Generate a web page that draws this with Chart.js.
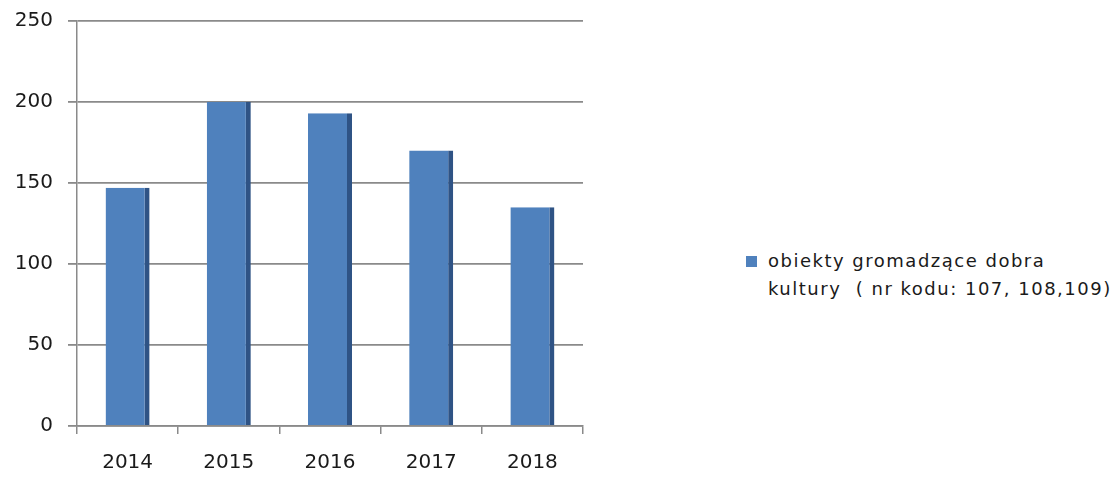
<!DOCTYPE html>
<html>
<head>
<meta charset="utf-8">
<script src="https://cdn.jsdelivr.net/npm/chart.js@4/dist/chart.umd.min.js"></script>
<style>
    html, body { margin: 0; padding: 0; background: #fff; }
    #wrap { position: relative; width: 1114px; height: 477px; }
    #chartBox { position: absolute; left: 0; top: 0; width: 590px; height: 477px; }
    #legenda { position: absolute; left: 746px; top: 247px; font-family: "DejaVu Sans", sans-serif; font-size: 18px; line-height: 28px; color: #1a1a1a; letter-spacing: 1.5px; }
    #legenda .kw { position: absolute; left: 0; top: 9px; width: 11px; height: 11px; background: #4f81bd; }
    #legenda div { padding-left: 22px; white-space: nowrap; }
</style>
</head>
<body>
<div id="wrap">
    <div id="chartBox"><canvas id="wykres"></canvas></div>
    <div id="legenda">
        <span class="kw"></span>
        <div>obiekty gromadzące dobra</div>
        <div>kultury &nbsp;( nr kodu: 107, 108,109)</div>
    </div>
</div>
<script>
const lata = ['2014', '2015', '2016', '2017', '2018'];
const obiekty = [147, 200, 193, 170, 135];
const osY = [0, 50, 100, 150, 200, 250];

const ctx = document.getElementById('wykres').getContext('2d');

new Chart(ctx, {
    type: 'bar',
    data: {
        labels: lata,
        datasets: [{
            label: 'obiekty gromadzące dobra kultury ( nr kodu: 107, 108,109)',
            data: obiekty,
            backgroundColor: '#4f81bd',
            borderColor: '#2f5385',
            borderWidth: { top: 0, right: 5, bottom: 0, left: 0 },
            borderSkipped: false,
            barPercentage: 0.435,
            categoryPercentage: 1
        }]
    },
    options: {
        responsive: true,
        maintainAspectRatio: false,
        animation: false,
        layout: { padding: { top: 0, right: 7 } },
        plugins: {
            legend: { display: false },
            tooltip: { enabled: false }
        },
        scales: {
            x: {
                offset: true,
                grid: { drawOnChartArea: false, drawTicks: true, tickLength: 8, color: '#8a8a8a', lineWidth: 1.5 },
                border: { color: '#8a8a8a', width: 1.5 },
                ticks: { color: '#1a1a1a', font: { family: 'DejaVu Sans', size: 20 }, padding: 17 },
                afterFit: s => { s.height = 51; }
            },
            y: {
                min: 0,
                max: 250,
                afterBuildTicks: s => { s.ticks = osY.map(v => ({ value: v })); },
                grid: { color: '#8a8a8a', lineWidth: 1.8, tickLength: 9 },
                border: { color: '#8a8a8a', width: 1.5 },
                ticks: { color: '#1a1a1a', font: { family: 'DejaVu Sans', size: 20 }, padding: 15 },
                afterFit: s => { s.width = 77; s.paddingTop = 21; s.paddingBottom = 0; }
            }
        }
    }
});
</script>
</body>
</html>
